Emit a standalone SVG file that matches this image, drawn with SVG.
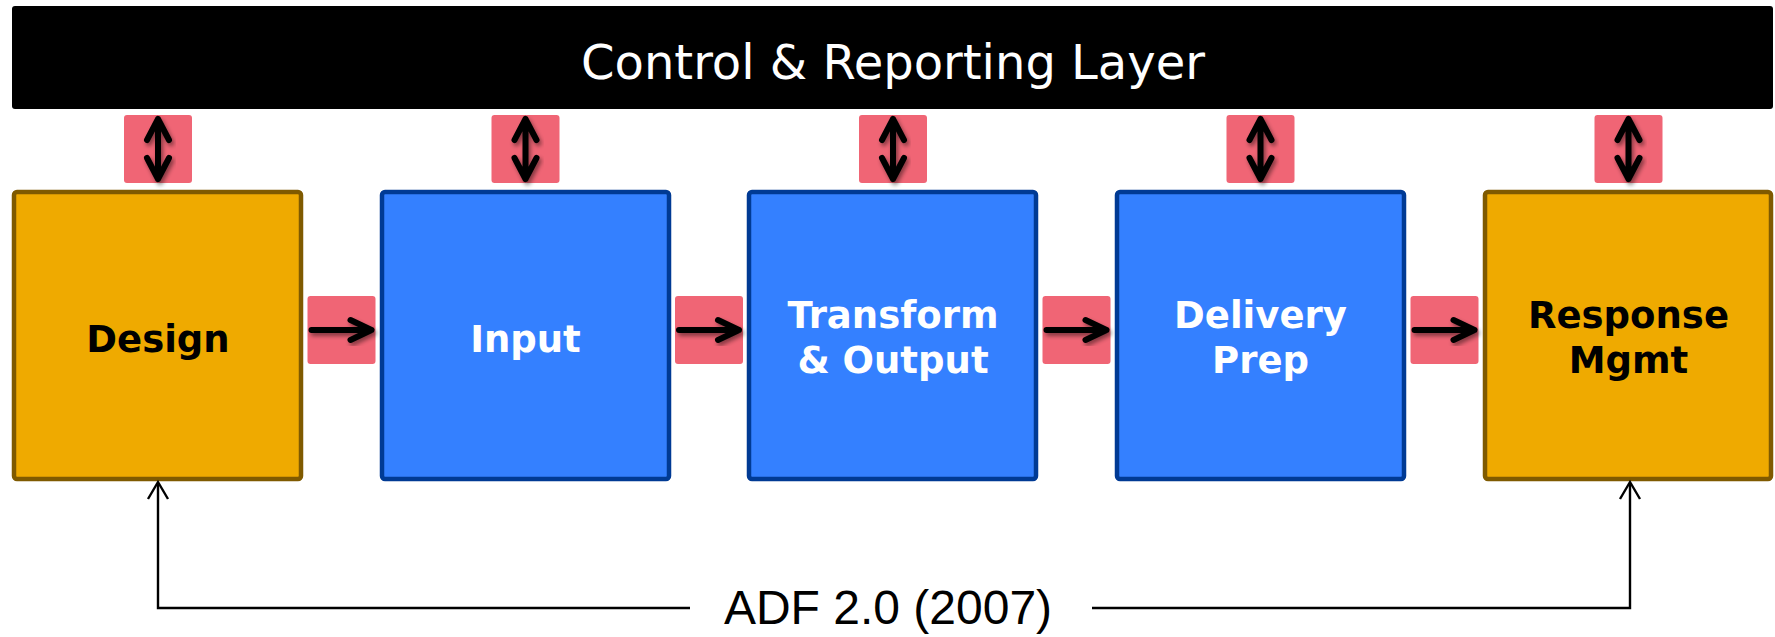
<svg xmlns="http://www.w3.org/2000/svg" width="1775" height="637" viewBox="0 0 1775 637">
<style>
.bar{fill:#000}
.title{font-family:"DejaVu Sans",Verdana,sans-serif;font-size:48px;fill:#fff;text-anchor:middle}
.orange{fill:#efaa00;stroke:#7f5a00;stroke-width:4.5}
.blue{fill:#3480ff;stroke:#003a94;stroke-width:4.5}
.lbl{font-family:"DejaVu Sans",Verdana,sans-serif;font-weight:bold;font-size:37px;text-anchor:middle}
.dark{fill:#000}
.light{fill:#fff}
.pink{fill:#f06575}
.arr{fill:none;stroke:#000;stroke-width:6;stroke-linecap:round;stroke-linejoin:round}
.conn{fill:none;stroke:#000;stroke-width:2.4}
.adf{font-family:"Liberation Sans",Arial,sans-serif;font-size:48px;fill:#000;text-anchor:middle}
</style>
<defs>
<filter id="sh" x="-30%" y="-30%" width="160%" height="160%">
<feDropShadow dx="2" dy="3" stdDeviation="2" flood-color="#000" flood-opacity="0.45"/>
</filter>
<g id="vArrow">
<rect class="pink" x="-34" y="0" width="68" height="68" rx="3"/>
<g class="arr" filter="url(#sh)">
<path d="M0,4 V64 M-11,25 L0,4 L11,25 M-11,43 L0,64 L11,43"/>
</g>
</g>
<g id="hArrow">
<rect class="pink" x="0" y="0" width="68" height="68" rx="3"/>
<g class="arr" filter="url(#sh)">
<path d="M4,34 H64 M43,24 L64,34 L43,44"/>
</g>
</g>
</defs>

<g id="control-layer">
<rect class="bar" x="12" y="6" width="1761" height="103" rx="3"/>
<text class="title" x="893" y="79">Control &amp; Reporting Layer</text>
</g>

<g id="link-arrows">
<use href="#vArrow" x="158" y="115"/>
<use href="#vArrow" x="525.5" y="115"/>
<use href="#vArrow" x="893" y="115"/>
<use href="#vArrow" x="1260.5" y="115"/>
<use href="#vArrow" x="1628.5" y="115"/>
<use href="#hArrow" x="307.5" y="296"/>
<use href="#hArrow" x="675" y="296"/>
<use href="#hArrow" x="1042.5" y="296"/>
<use href="#hArrow" x="1410.5" y="296"/>
</g>

<g id="design">
<rect class="orange" x="14" y="192" width="287" height="287" rx="3"/>
<text class="lbl dark" x="158" y="352">Design</text>
</g>
<g id="input">
<rect class="blue" x="382" y="192" width="287" height="287" rx="3"/>
<text class="lbl light" x="525.5" y="352">Input</text>
</g>
<g id="transform">
<rect class="blue" x="749" y="192" width="287" height="287" rx="3"/>
<text class="lbl light" x="893" y="328">Transform</text>
<text class="lbl light" x="893" y="373">&amp; Output</text>
</g>
<g id="delivery">
<rect class="blue" x="1117" y="192" width="287" height="287" rx="3"/>
<text class="lbl light" x="1260.5" y="328">Delivery</text>
<text class="lbl light" x="1260.5" y="373">Prep</text>
</g>
<g id="response">
<rect class="orange" x="1485" y="192" width="286" height="287" rx="3"/>
<text class="lbl dark" x="1628.5" y="328">Response</text>
<text class="lbl dark" x="1628.5" y="373">Mgmt</text>
</g>

<g id="connectors">
<path class="conn" d="M690,608 H158 V483"/>
<path class="conn" d="M148,499 L158,482 L168,499"/>
<path class="conn" d="M1092,608 H1630 V483"/>
<path class="conn" d="M1620,499 L1630,482 L1640,499"/>
<text class="adf" x="888" y="624">ADF 2.0 (2007)</text>
</g>
</svg>
